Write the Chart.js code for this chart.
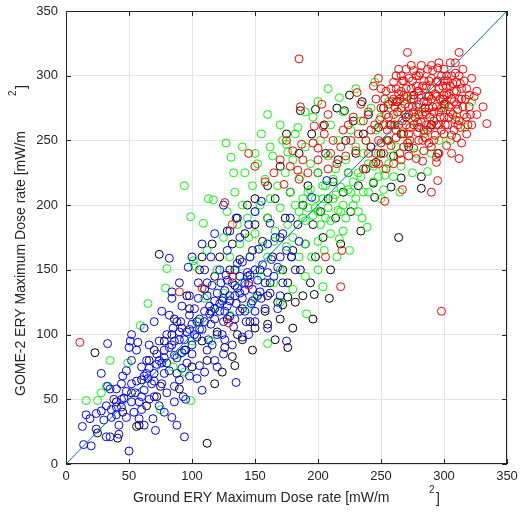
<!DOCTYPE html>
<html>
<head>
<meta charset="utf-8">
<script src="https://cdn.jsdelivr.net/npm/chart.js@4/dist/chart.umd.min.js"></script>
<style>
  body { margin: 0; background: #fff; }
  canvas { display: block; }
</style>
</head>
<body>
<canvas id="myChart" width="532" height="517"></canvas>
<script>
// tick values (both axes)
var ticks = [0, 50, 100, 150, 200, 250, 300, 350];
var xTitle = "Ground ERY Maximum Dose rate [mW/m";
var yTitle = "GOME-2 ERY Maximum Dose rate [mW/m";

// 1:1 reference line
var diagX = [0, 350];
var diagY = [0, 350];

// [ground, gome2] pairs
var bluePts = [
  [14,15],[20,14],[13,29],[24,27],[32,21],[35,21],[42,23],[50,10],[71,26],[94,21],[69,35],[16,38],[19,35],[24,39],[28,41],[32,45],[36,42],[40,38],[44,44],[38,50],
  [46,51],[33,60],[35,58],[28,70],[33,93],[45,68],[48,72],[52,62],[55,55],[58,48],[60,42],[62,57],[65,66],[68,62],[52,80],[56,88],[60,75],[64,80],[66,92],[70,70],
  [72,85],[74,95],[76,78],[78,88],[80,100],[82,72],[84,92],[85,105],[86,60],[88,82],[90,96],[91,110],[93,52],[95,50],[94,88],[96,102],[98,115],[100,92],[100,108],[102,120],
  [104,98],[105,128],[106,112],[108,104],[108,57],[110,71],[110,118],[112,130],[113,96],[114,122],[115,108],[116,138],[118,126],[118,112],[120,100],[120,132],[122,118],[123,140],[124,126],[125,110],
  [126,134],[127,146],[128,122],[130,130],[130,114],[132,140],[133,106],[134,150],[135,63],[135,124],[136,136],[138,118],[138,145],[140,128],[140,156],[142,134],[143,110],[144,148],[145,140],[146,160],
  [147,124],[148,135],[150,150],[150,118],[152,142],[153,166],[155,128],[155,203],[156,154],[158,140],[160,148],[160,170],[162,132],[163,158],[165,145],[166,175],[168,152],[170,160],[172,140],[175,165],
  [178,190],[179,160],[182,150],[185,172],[207,219],[195,206],[140,98],[132,92],[125,85],[118,80],[112,88],[106,76],[98,68],[92,74],[86,48],[80,55],[76,62],[120,75],[126,96],[145,100],
  [150,110],[158,120],[160,105],[170,130],[175,95],[168,120],[105,140],[98,130],[92,122],[88,110],[82,115],[110,150],[115,160],[128,165],[138,175],[130,180],[122,150],[145,185],[100,85],[96,78],
  [90,65],[104,66],[116,92],[124,100],[134,112],[142,118],[148,126],[154,133],[54,40],[58,35],[62,30],[66,50],[70,52],[74,45],[78,40],[84,36],[88,30],[42,30],[48,36],[40,58],
  [44,62],[50,90],[52,100],[62,105],[70,110],[76,118],[84,128],[90,140],[100,160],[108,170],[118,178],[135,190],[125,200],[150,195],[162,186],[172,178],[112,140],[128,142],[136,155],[92,86],
  [86,95],[78,70],[72,77],[64,70],[82,159],[97,152],[84,133],[51,95],[57,94],[179,160],
  [62,68],[66,74],[70,64],[74,80],[78,82],[82,90],[86,84],[90,102],[94,96],[98,104],[102,100],[106,104],[110,110],[114,116],[118,120],[122,124],[126,118],[130,126],[134,130],[138,132],
  [142,140],[146,146],[60,52],[56,64],[52,48],[48,56],[44,50],[40,44],[36,36],[30,34]
];
var blackPts = [
  [23,86],[25,24],[41,20],[56,29],[58,30],[112,16],[74,162],[176,90],[197,131],[209,128],[124,71],[132,83],[148,88],[264,175],[266,221],[258,214],[282,213],[282,222],[245,206],[244,217],
  [40,48],[45,40],[52,55],[60,65],[64,45],[70,88],[75,60],[80,78],[84,100],[88,70],[92,105],[95,88],[98,120],[100,75],[104,110],[108,95],[110,135],[112,80],[115,118],[118,145],
  [120,102],[122,160],[125,128],[128,112],[130,150],[132,170],[134,138],[136,100],[138,158],[140,120],[142,178],[144,145],[146,110],[148,165],[150,185],[152,130],[154,150],[156,172],[158,118],[160,190],
  [162,140],[164,160],[166,205],[168,125],[170,175],[172,150],[174,190],[176,140],[178,210],[180,165],[182,125],[184,185],[186,150],[188,200],[190,170],[192,215],[194,140],[196,185],[198,160],[200,225],
  [202,195],[204,175],[206,240],[208,205],[210,150],[212,218],[214,190],[216,235],[218,170],[220,210],[222,250],[224,225],[226,195],[228,265],[230,240],[232,215],[234,180],[236,255],[238,228],[240,270],
  [242,245],[246,233],[248,260],[250,240],[252,275],[255,250],[258,262],[260,238],[263,280],[266,255],[270,268],[272,245],[276,285],[280,260],[285,275],[290,262],[295,240],[300,278],[186,273],[198,274],
  [221,273],[106,150],[96,130],[90,58],[86,112],[78,95],[72,52],[66,80],[118,62],[126,90],[134,76],[140,96],[150,105],[160,108],[166,96],[170,112],[180,105],[188,130],[196,112],[150,205],
  [160,215],[170,230],[144,200],[136,190],[128,180],[116,170],[108,160],[175,255],[185,240],[195,255],[205,262],[215,275],[225,285],[235,280],[160,130],[176,129],[172,123]
];
var greenPts = [
  [16,49],[25,49],[28,55],[32,60],[35,80],[49,78],[75,42],[94,71],[99,49],[94,215],[113,205],[99,191],[109,186],[80,151],[65,124],[59,107],[79,136],[101,157],[102,153],[112,165],
  [160,93],[191,116],[204,137],[217,174],[225,165],[239,183],[287,226],[317,260],[253,223],[131,237],[133,225],[162,245],[175,247],[176,241],[117,204],[217,283],
  [120,150],[125,175],[128,195],[130,160],[134,210],[136,185],[138,170],[140,200],[142,225],[144,190],[146,160],[148,215],[150,178],[152,232],[154,200],[156,168],[158,220],[160,190],[162,205],[164,238],
  [166,180],[168,215],[170,198],[172,250],[174,225],[176,185],[178,210],[180,235],[182,200],[184,260],[186,222],[188,190],[190,245],[192,210],[194,232],[196,268],[198,198],[200,225],[202,250],[204,215],
  [206,190],[208,238],[210,262],[212,205],[214,228],[216,250],[218,195],[220,272],[222,235],[224,212],[226,258],[228,200],[230,245],[232,225],[234,265],[236,210],[238,250],[240,232],[242,275],[244,218],
  [246,258],[248,240],[250,268],[252,228],[254,250],[256,280],[258,238],[260,262],[262,245],[264,272],[266,230],[268,256],[270,282],[272,248],[275,265],[278,240],[280,272],[284,255],[288,285],[292,265],
  [296,250],[300,275],[185,195],[188,205],[190,188],[192,198],[194,212],[196,192],[198,205],[200,195],[202,185],[204,205],[206,215],[208,198],[210,188],[212,220],[214,208],[216,196],[218,214],[220,200],
  [222,190],[224,225],[226,210],[228,218],[230,205],[232,195],[234,222],[236,240],[240,210],[244,230],[248,222],[252,212],[256,232],[260,222],[140,140],[145,175],[150,195],[155,145],[160,160],[165,172],
  [170,150],[175,168],[180,175],[185,160],[190,170],[195,160],[200,172],[205,165],[210,178],[215,160],[220,180],[150,128],[165,140],[180,135],[135,150],[125,132],[118,120],[110,128],[105,110],[100,95],
  [90,85],[85,75],[115,95],[130,115],[145,120],[170,125],[190,145],[200,150],[235,190],[250,205],[265,210],[275,225],[290,240],[305,250],[310,268],[322,280],[150,240],[160,270],[170,262],[182,255],
  [190,272],[200,280],[208,290],[230,290],[245,295],[155,255],[140,245],[127,248]
];
var redPts = [
  [11,94],[185,313],[186,276],[203,278],[231,287],[208,270],[271,318],[312,318],[309,310],[331,276],[334,263],[310,252],[312,236],[295,219],[290,210],[267,212],[253,203],[298,118],[145,240],[150,230],
  [158,218],[173,216],[184,227],[187,247],[126,202],[132,185],[200,244],[204,261],[197,261],[90,133],[108,136],[206,160],[218,137],[129,109],[145,138],[132,145],[219,165],[283,234],[294,233],[294,237],
  [245,262],[248,250],[250,275],[252,240],[254,288],[255,258],[256,268],[258,246],[259,280],[260,295],[261,262],[262,252],[263,272],[264,286],[265,240],[266,300],[267,265],[268,255],[269,278],[270,290],
  [271,248],[272,270],[273,260],[274,282],[275,296],[276,244],[277,268],[278,276],[279,256],[280,288],[281,302],[282,264],[283,250],[284,280],[285,272],[286,292],[287,258],[288,284],[289,268],[290,298],
  [291,276],[292,250],[293,286],[294,262],[295,306],[296,272],[297,282],[298,258],[299,292],[300,268],[301,278],[302,300],[303,262],[304,286],[305,272],[306,254],[307,294],[308,280],[309,266],[310,288],
  [311,274],[312,300],[313,260],[314,282],[316,270],[318,290],[320,276],[322,262],[324,284],[326,270],[258,290],[262,280],[266,275],[270,262],[274,290],[278,300],[282,285],[286,270],[290,282],[294,295],
  [298,275],[302,285],[306,300],[310,278],[314,290],[318,268],[262,300],[268,285],[272,298],[276,282],[280,270],[284,296],[288,275],[292,265],[296,290],[300,285],[304,276],[308,288],[312,265],[316,296],
  [320,285],[256,278],[260,270],[264,262],[268,245],[272,255],[276,262],[280,250],[284,258],[288,248],[292,272],[296,262],[300,255],[304,268],[308,258],[312,282],[252,262],[256,250],[260,282],[264,305],
  [270,305],[276,304],[282,308],[288,296],[294,276],[298,300],[302,292],[306,282],[310,295],[246,282],[250,290],[254,270],[240,272],[242,258],[238,250],[236,265],[234,278],[244,292],[248,298],[232,255],
  [228,268],[230,242],[226,250],[224,262],[222,238],[218,245],[220,258],[215,232],[212,250],[210,240],[208,228],[205,255],[200,235],[196,248],[192,225],[188,235],[185,220],[180,242],[178,230],[175,250],
  [170,235],[165,225],[240,240],[244,232],[236,228],[248,232],[254,228],[260,232],[266,235],[272,238],[278,236],[284,242],[290,245],[296,240],[302,246],[306,240],[314,248],[318,255],[322,298],[326,288],
  [315,305],[305,310],[296,310],[287,305],[278,292],[272,276],[266,288],[262,258],[250,248],[246,240],[280,278],[290,290],[300,296],[294,284],[286,262],[276,272],
  [262,290],[267,296],[271,284],[275,276],[279,288],[283,292],[287,280],[291,304],[295,296],[299,282],[303,296],[307,270],[311,262],[315,276],[319,262],[283,270],[279,264],[273,250],[269,270],[265,282],
  [261,276],[257,262],[253,282],[249,266],[285,252],[289,260],[293,254],[297,268],[301,262],[305,292],[309,302],[313,294],[317,282],[321,270],[280,300],[274,308],[268,296],[290,308],[300,305],[286,284]
];

function toXY(list) {
  return list.map(function (p) { return { x: p[0], y: p[1] }; });
}

var axisColor = "#262626";
var fontFam = '"Liberation Sans", Arial, Helvetica, sans-serif';

function scatterSet(pts, color, order) {
  return {
    type: "scatter",
    data: toXY(pts),
    borderColor: color,
    backgroundColor: "rgba(0,0,0,0)",
    pointRadius: 4,
    pointBorderWidth: 1,
    pointHoverRadius: 4,
    order: order,
  };
}

// box, inward ticks and axis titles, MATLAB style
var boxPlugin = {
  id: "boxPlugin",
  afterDraw: function (chart) {
    var c = chart.ctx;
    var a = chart.chartArea;
    var sx = chart.scales.x, sy = chart.scales.y;
    c.save();
    c.strokeStyle = axisColor;
    c.lineWidth = 1;
    c.strokeRect(a.left + 0.5, a.top + 0.5, a.right - a.left - 1, a.bottom - a.top - 1);
    c.beginPath();
    ticks.forEach(function (t) {
      var px = Math.round(sx.getPixelForValue(t)) + 0.5;
      c.moveTo(px, a.bottom); c.lineTo(px, a.bottom - 5);
      c.moveTo(px, a.top); c.lineTo(px, a.top + 5);
      var py = Math.round(sy.getPixelForValue(t)) + 0.5;
      c.moveTo(a.left, py); c.lineTo(a.left + 5, py);
      c.moveTo(a.right, py); c.lineTo(a.right - 5, py);
    });
    c.stroke();

    c.fillStyle = axisColor;
    c.textBaseline = "alphabetic";
    c.textAlign = "left";
    c.font = "14px " + fontFam;
    c.fillText(xTitle, 133, 502);
    c.font = "10px " + fontFam;
    c.fillText("2", 429, 493);
    c.font = "14px " + fontFam;
    c.fillText("]", 436, 503);

    c.translate(25, 396);
    c.rotate(-Math.PI / 2);
    c.font = "14px " + fontFam;
    c.fillText(yTitle, 0, 0);
    c.font = "10px " + fontFam;
    c.fillText("2", 300, -9);
    c.font = "14px " + fontFam;
    c.fillText("]", 307, 1);
    c.restore();
  },
};

var ctx = document.getElementById("myChart");
var myChart = new Chart(ctx, {
  data: {
    datasets: [
      {
        type: "line",
        data: diagX.map(function (v, i) { return { x: v, y: diagY[i] }; }),
        borderColor: "#0072BD",
        borderWidth: 1,
        pointRadius: 0,
        fill: false,
        order: 1,
      },
      scatterSet(blackPts, "#000000", 5),
      scatterSet(greenPts, "#00FF00", 4),
      scatterSet(bluePts, "#0000FF", 3),
      scatterSet(redPts, "#FF0000", 2),
    ],
  },
  options: {
    responsive: false,
    animation: false,
    layout: { padding: { left: 0, right: 25, top: 11, bottom: 0 } },
    plugins: {
      legend: { display: false },
      tooltip: { enabled: false },
    },
    scales: {
      x: {
        type: "linear",
        min: 0,
        max: 350,
        afterFit: function (s) { s.height = 53; s.paddingLeft = 0; s.paddingRight = 0; },
        afterBuildTicks: function (s) { s.ticks = ticks.map(function (v) { return { value: v }; }); },
        ticks: { color: axisColor, font: { size: 13, family: fontFam }, padding: 5, maxRotation: 0 },
        grid: { color: "#e3e3e3", drawTicks: false },
        border: { display: false },
      },
      y: {
        type: "linear",
        min: 0,
        max: 350,
        afterFit: function (s) { s.width = 66; s.paddingTop = 0; s.paddingBottom = 0; },
        afterBuildTicks: function (s) { s.ticks = ticks.map(function (v) { return { value: v }; }); },
        ticks: { color: axisColor, font: { size: 13, family: fontFam }, padding: 8 },
        grid: { color: "#e3e3e3", drawTicks: false },
        border: { display: false },
      },
    },
  },
  plugins: [boxPlugin],
});
</script>
</body>
</html>
